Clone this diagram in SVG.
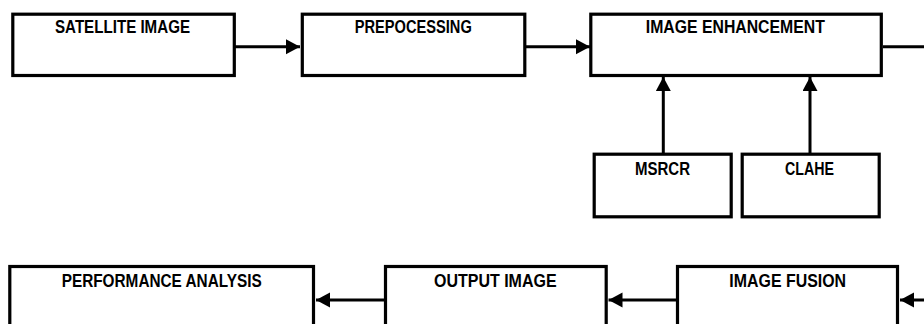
<svg xmlns="http://www.w3.org/2000/svg" width="924" height="324" viewBox="0 0 924 324">
<style>
.box{fill:#fff;stroke:#000;stroke-width:3.2}
.lbl{font-family:"Liberation Sans",Arial,sans-serif;font-weight:bold;font-size:17.6px;fill:#000;text-anchor:middle}
.con{fill:none;stroke:#000;stroke-width:3}
</style>
<defs>
<marker id="ah" markerUnits="userSpaceOnUse" markerWidth="14" markerHeight="16" refX="14" refY="7.5" orient="auto">
<path d="M0,0 L14,7.5 L0,15 Z" fill="#000"/>
</marker>
</defs>
<rect width="924" height="324" fill="#fff"/>
<g id="connectors">
<line class="con" x1="235" y1="46.7" x2="300" y2="46.7" marker-end="url(#ah)"/>
<line class="con" x1="526" y1="46.7" x2="590" y2="46.7" marker-end="url(#ah)"/>
<line class="con" x1="883" y1="46.7" x2="926" y2="46.7"/>
<line class="con" x1="663.3" y1="153" x2="663.3" y2="77" marker-end="url(#ah)"/>
<line class="con" x1="810" y1="153" x2="810" y2="77" marker-end="url(#ah)"/>
<line class="con" x1="926" y1="300" x2="900" y2="300" marker-end="url(#ah)"/>
<line class="con" x1="676" y1="300" x2="608.5" y2="300" marker-end="url(#ah)"/>
<line class="con" x1="384" y1="300" x2="316" y2="300" marker-end="url(#ah)"/>
</g>
<g id="satellite">
<rect class="box" x="12.8" y="14.2" width="221.5" height="61.3"/>
<text class="lbl" x="122.5" y="33.3" textLength="135" lengthAdjust="spacingAndGlyphs">SATELLITE IMAGE</text>
</g>
<g id="prepocessing">
<rect class="box" x="302.3" y="14.2" width="222.5" height="61.3"/>
<text class="lbl" x="413.3" y="33.3" textLength="117" lengthAdjust="spacingAndGlyphs">PREPOCESSING</text>
</g>
<g id="enhancement">
<rect class="box" x="590.8" y="14.2" width="290.5" height="61.3"/>
<text class="lbl" x="735.3" y="33.3" textLength="179" lengthAdjust="spacingAndGlyphs">IMAGE ENHANCEMENT</text>
</g>
<g id="msrcr">
<rect class="box" x="594.2" y="154.2" width="137" height="62.6"/>
<text class="lbl" x="662.5" y="175" textLength="55" lengthAdjust="spacingAndGlyphs">MSRCR</text>
</g>
<g id="clahe">
<rect class="box" x="742.2" y="154.2" width="137" height="62.6"/>
<text class="lbl" x="809.5" y="175" textLength="49" lengthAdjust="spacingAndGlyphs">CLAHE</text>
</g>
<g id="performance">
<rect class="box" x="9.8" y="266.5" width="303.7" height="80"/>
<text class="lbl" x="161.7" y="286.7" textLength="200" lengthAdjust="spacingAndGlyphs">PERFORMANCE ANALYSIS</text>
</g>
<g id="output">
<rect class="box" x="385.5" y="266.5" width="220.7" height="80"/>
<text class="lbl" x="495.3" y="286.7" textLength="122.7" lengthAdjust="spacingAndGlyphs">OUTPUT IMAGE</text>
</g>
<g id="fusion">
<rect class="box" x="677.5" y="266.5" width="220" height="80"/>
<text class="lbl" x="787.7" y="286.7" textLength="116.7" lengthAdjust="spacingAndGlyphs">IMAGE FUSION</text>
</g>
</svg>
